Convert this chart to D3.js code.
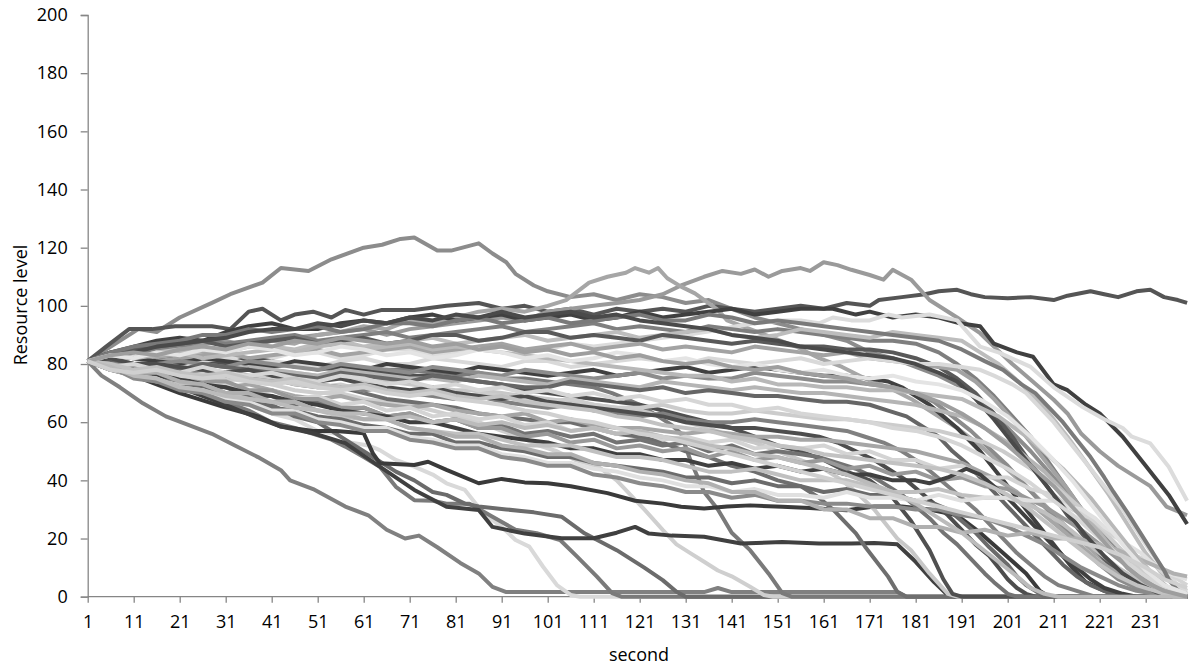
<!DOCTYPE html>
<html>
<head>
<meta charset="utf-8">
<script src="https://cdn.jsdelivr.net/npm/d3@7"></script>
<style>
  html, body { margin: 0; padding: 0; background: #ffffff; }
  svg { display: block; }
  text { font-family: "Open Sans", "Liberation Sans", sans-serif; fill: #000; }
</style>
</head>
<body>
<svg id="chart" width="1190" height="671"></svg>
<script>
// ---------------- data ----------------
const xTickLabels = [1, 11, 21, 31, 41, 51, 61, 71, 81, 91, 101, 111, 121, 131, 141, 151, 161, 171, 181, 191, 201, 211, 221, 231];
const yTickLabels = [0, 20, 40, 60, 80, 100, 120, 140, 160, 180, 200];
const xTitle = "second";
const yTitle = "Resource level";

// each series: [second, resource level] readings
const s01 = [[1,81],[5,85],[12,92],[16,91],[21,96],[28,101],[32,104],[39,108],[43,113],[49,112],[54,116],[61,120],[65,121],[69,123],[72,123.5],[77,119],[80,119],[86,121.5],[89,118],[92,115],[94,111],[98,107],[101,105],[106,103],[111,104],[116,102],[121,104],[126,103],[131,101],[136,102],[141,99],[146,96],[151,94],[156,92],[161,90],[166,88],[171,84],[176,82],[181,79],[186,76],[191,72],[196,66],[201,58],[206,50],[211,41],[216,32],[221,23],[226,15],[231,8],[235,4],[238,1],[240,0]];
const s02 = [[1,81],[5,86],[10,92],[15,92],[20,93],[28,93],[32,92],[36,98],[39,99],[43,95],[46,97],[50,98],[54,96],[57,98.6],[61,97],[65,98.6],[72,98.6],[79,100],[86,101],[91,99],[96,100],[101,98],[106,99],[111,97],[116,99],[121,98],[126,99],[131,98],[136,100],[141,99],[146,98],[151,99],[156,100],[161,99],[166,101],[171,100],[173,102],[178,103],[183,104],[186,105],[190,105.5],[193,104],[196,103],[201,102.6],[206,103],[211,102],[214,103.5],[219,105],[222,104],[225,103],[229,105],[232,105.5],[235,103],[238,102],[240,101]];
const s03 = [[1,81],[6,82],[11,84],[16,83],[21,86],[26,87],[31,88],[36,86],[41,88],[46,89],[51,90],[56,91],[61,92],[66,90],[71,92],[76,93],[81,94],[86,95],[91,96],[96,95],[101,98],[106,99],[111,100],[116,101],[121,102],[126,104],[130,107],[135,110],[139,112],[143,111],[146,112.5],[149,110],[152,112],[156,113],[158,112],[161,115],[164,114],[167,112.4],[171,110.6],[174,109],[176,112.4],[180,109],[184,102],[190,96],[195,90.6],[198,86],[202,80],[206,74.6],[211,67.7],[214,63],[217,56],[221,50],[225,45],[232,38],[235.5,31],[240,28]];
const s04 = [[1,81],[6,83],[11,84],[16,82],[21,83],[26,84],[31,85],[36,87],[41,88],[46,87],[51,90],[56,91],[61,93],[66,92],[71,95],[76,94],[81,96],[86,98],[91,99],[96,98],[101,100],[105,102],[110,108],[114,110],[118,111.4],[120,113],[123,111.4],[125,113],[127,109.5],[130,106.6],[133,104.3],[138,98.6],[140,95],[145,92],[150,89],[155,86],[160,82],[165,79],[170,75],[175,72],[180,68],[185,63],[190,58],[195,52],[200,45],[205,38],[210,30],[215,22],[220,15],[225,9],[230,5],[235,2],[240,1]];
const s05 = [[1,81],[6,84],[11,86],[16,88],[21,89],[26,88],[31,91],[36,93],[41,94],[46,92],[51,92],[56,94],[61,95],[66,94],[71,96],[76,97],[81,95],[86,96],[91,97],[96,95],[101,96],[106,97],[111,95],[116,96],[121,98],[126,96],[131,97],[136,98],[141,99],[146,97],[151,98],[156,99],[163,99],[168,97],[171,98],[176,96],[181,97],[186,96],[190.6,94],[195,93],[198,87],[203,84],[206.5,82.5],[211,73],[214,71],[218,66],[221,63],[226,55],[231,45],[236,35],[240,25]];
const s06 = [[1,81],[6,80],[11,79],[16,81],[21,80],[26,82],[31,83],[36,81],[41,82],[46,84],[51,84],[56,82],[61,83],[66,85],[71,85],[76,83],[81,84],[86,86],[91,86],[96,84],[101,85],[106,87],[111,86],[116,87],[121,88],[126,89],[131,90],[138,91.7],[142,93],[146,94],[152,95],[156,95],[160,94],[163,96],[167,95],[171,95],[175,97],[178,96],[184,97],[190,95],[195,86],[199,84],[206,79],[211,72],[217,65.5],[222,61],[226,58],[228,55],[232,52.7],[236,44.7],[240,33]];
const s07 = [[1,81],[4,76],[8,72],[13,66.5],[18,62],[23,59],[28,56],[33,52],[38,48],[43,43.5],[45,40],[50,37],[57,31],[62,28],[66,23],[70,20],[73,21],[77,17],[82,11.6],[86,8],[89,3.4],[92,1.6],[120,1.6],[135,1.6],[138,3],[141,1.6],[177,1.6],[179,0],[240,0]];
const s08 = [[1,81],[6,78],[11,76],[16,75],[21,72],[26,71],[31,68],[36,66],[41,63],[46,61],[51,57],[55,56],[58,53],[62,52],[64.5,50.4],[68,47],[72,44.7],[76,42],[79,39],[83,36.7],[87,28.7],[91,24],[94,19.5],[97,17.2],[100,10.3],[103,4],[106,0.6],[108,0],[240,0]];
const s09 = [[1,81],[6,78],[11,77],[16,74],[21,72],[26,70],[31,67],[36,64],[41,60],[46,58],[50,56],[54,54],[57,51.6],[61,48],[64.5,44.7],[68,37.8],[72,33.2],[76,33],[79,32],[84,32],[89,27.5],[94,23],[98.6,21.8],[103.7,19.5],[107.4,13.8],[111.7,6.9],[115,1.2],[117,0],[240,0]];
const s10 = [[1,81],[6,79],[11,78],[16,76],[21,74],[26,73],[31,70],[36,68],[41,66],[46,62],[51,60],[54,57],[57,54],[61,50],[64,47],[68,43],[72,40],[76,36],[79,35],[83,32],[86,31],[92,30],[98,29],[104,27.5],[109,21.8],[116,16],[122,10],[126,5.7],[129,1.7],[131,0],[240,0]];
const s11 = [[1,81],[6,80],[11,79],[16,78],[21,77],[26,77],[31,75],[36,74],[41,73],[46,71],[51,70],[56,70],[61,68],[66,67],[71,66],[76,64],[81,62],[86,60],[91,57],[95,55],[99,52],[103,50],[107,47],[112,44.7],[116,40],[119,35],[122,30],[126,23],[129,18],[132,15],[135,12],[138,9],[141,7],[145,3.4],[148,0.6],[150,0],[240,0]];
const s12 = [[1,81],[6,83],[11,82],[16,81],[21,80],[26,82],[31,81],[36,80],[41,79],[46,80],[51,78],[56,79],[61,77],[66,78],[71,78],[76,77],[81,76],[86,77],[91,75],[96,75],[101,74],[106,73],[111,72],[115,70],[118,68],[121,66],[125,62],[128,59],[130,56],[132,47],[135,36],[138,30],[141,22],[145,16],[149,8],[152,1.2],[154,0],[240,0]];
const s13 = [[1,81],[6,78],[11,76],[21,70],[31,65],[38,62],[43,58.5],[50,57],[55,57],[57,56.7],[61,56.2],[63,49.3],[64.5,45.9],[72,45.3],[75,46.4],[79,43.6],[86,39],[91,40.5],[96,39.3],[101,39],[106,38],[114,35.6],[120,33],[126,32],[130,30.9],[135,30.3],[140,31],[145,31.4],[152,30.9],[158,30.5],[166,29.7],[172,31],[178,31],[184,30],[190,28],[195,22],[200,15],[205,8],[208,2],[210,0],[240,0]];
const s14 = [[1,81],[11,77],[21,72],[31,66],[38,61.4],[43,58.5],[50,56.2],[57,52.8],[64.5,44.7],[72,36.7],[79,30.9],[86,29.8],[89,24],[96,21.7],[104,20.1],[111,20.1],[116,22],[120,24],[123,21.7],[128,21],[135,20.6],[143,18.3],[152,18.8],[160,18.3],[167,18.3],[172,18.5],[177,18],[181,12],[185,5],[188,0.5],[190,0],[240,0]];
const s15 = [[1,81],[6,82],[11,80],[16,79],[21,78],[26,78],[31,77],[36,76],[41,75],[46,73],[51,72],[56,72],[61,70],[66,68],[71,67],[76,66],[81,65],[86,63],[91,62],[96,61],[101,60],[106,60],[111,58],[116,56],[121,55],[126,53],[131,50],[136,48],[141,45],[146,43],[151,40],[156,38],[160,34],[163,30],[168,21.8],[170,17.2],[175,6.9],[177,1.7],[179,0],[240,0]];
const s16 = [[1,81],[6,82],[11,80],[16,80],[21,81],[26,80],[31,79],[36,79],[41,78],[46,77],[51,76],[56,75],[61,74],[66,74],[71,73],[76,72],[81,71],[86,71],[91,70],[96,69],[101,68],[106,67],[111,66],[116,65],[121,64],[126,62],[131,60],[136,58],[141,55],[146,53],[151,50],[156,47],[161,44],[165,40],[168,36],[172,30],[177,20],[180,16],[184,8],[188,1],[190,0],[240,0]];
const s17 = [[1,81],[6,82],[11,83],[16,81],[21,82],[26,81],[31,80],[36,82],[41,81],[46,79],[51,79],[56,78],[61,78],[66,77],[71,76],[76,76],[81,75],[86,74],[91,73],[96,71],[101,70],[106,69],[111,68],[116,67],[121,66],[126,64],[131,62],[136,60],[141,58],[146,55],[151,52],[156,50],[161,47],[166,43],[171,40],[176,34],[180,26],[184,16],[187,6],[189,1],[191,0],[240,0]];
const s18 = [[1,81],[6,83],[11,84],[16,85],[21,86],[26,88],[31,87],[36,88],[41,89],[46,90],[51,88],[56,89],[61,90],[66,91],[71,89],[76,90],[81,91],[86,92],[91,93],[96,91],[101,92],[106,93],[111,94],[116,92],[121,93],[126,92],[131,91],[136,93],[141,92],[146,91],[151,92],[156,91],[161,90],[166,89],[171,88],[176,88],[181,87],[186,84],[190,80],[194,75],[198,69],[202,62],[206,55],[210,46],[214,37],[218,28],[222,19],[226,12],[230,6],[234,3],[238,1],[240,0]];
const s19 = [[1,81],[6,83],[11,82],[16,84],[21,85],[26,83],[31,84],[36,86],[41,86],[46,85],[51,87],[56,88],[61,86],[66,87],[71,88],[76,89],[81,87],[86,88],[91,89],[96,90],[101,88],[106,89],[111,90],[116,91],[121,89],[126,90],[131,91],[136,92],[141,90],[146,89],[151,90],[156,92],[161,91],[166,90],[171,89],[176,91],[181,90],[186,89],[191,88],[195,84],[199,80],[204,73],[209,65],[214,55],[219,44],[223,35],[227,25],[231,15],[234,9],[237,4],[240,2]];
const s20 = [[1,81],[6,84],[11,85],[16,86],[21,87],[26,88],[31,86],[36,87],[41,88],[46,89],[51,87],[56,88],[61,89],[66,87],[71,88],[76,90],[81,90],[86,88],[91,89],[96,91],[101,91],[106,89],[111,90],[116,89],[121,88],[126,90],[131,89],[136,88],[141,87],[146,88],[151,87],[156,86],[161,86],[166,85],[171,85],[176,84],[181,82],[186,79],[190,75],[194,70],[198,63],[202,55],[206,46],[210,37],[214,28],[218,20],[222,13],[226,7],[230,3],[234,1],[236,0],[240,0]];
const s21 = [[1,81],[6,82],[11,80],[16,81],[21,82],[26,83],[31,84],[36,82],[41,83],[46,84],[51,85],[56,83],[61,84],[66,85],[71,86],[76,84],[81,85],[86,86],[91,87],[96,85],[101,86],[106,87],[111,85],[116,86],[121,87],[126,85],[131,86],[136,85],[141,84],[146,86],[151,85],[156,84],[161,83],[166,84],[171,82],[176,81],[181,80],[186,79],[190,78],[194,74],[198,68],[202,61],[206,53],[210,45],[214,37],[218,28],[222,19],[226,12],[230,7],[234,3],[238,1],[240,0]];
const s22 = [[1,81],[6,82],[11,83],[16,81],[21,80],[26,81],[31,82],[36,80],[41,81],[46,80],[51,79],[56,81],[61,82],[66,80],[71,80],[76,82],[81,81],[86,80],[91,79],[96,81],[101,81],[106,79],[111,80],[116,81],[121,82],[126,81],[131,80],[136,82],[141,81],[146,80],[151,81],[156,82],[161,80],[166,81],[171,82],[176,81],[181,80],[186,80],[191,79],[195,78],[198,76],[202,73],[205,70],[208,65],[211,60],[216,50],[221,40],[226,30],[231,18],[235,9],[238,4],[240,2]];
const s23 = [[1,81],[6,83],[11,82],[16,81],[21,80],[26,82],[31,81],[36,80],[41,79],[46,81],[51,80],[56,79],[61,78],[66,80],[71,79],[76,78],[81,77],[86,79],[91,78],[96,77],[101,76],[106,77],[111,78],[116,76],[121,77],[126,78],[131,79],[136,77],[141,78],[146,79],[151,78],[156,77],[161,76],[166,76],[171,75],[175,74],[178,72],[181,69],[184,66],[187,62],[190,58],[195,50],[200,40],[204,32],[208,24],[212,16],[215,10],[218,5],[222,2],[226,0],[240,0]];
const s24 = [[1,81],[6,80],[11,79],[16,80],[21,81],[26,80],[31,79],[36,81],[41,80],[46,79],[51,78],[56,80],[61,79],[66,78],[71,77],[76,79],[81,78],[86,77],[91,76],[96,78],[101,77],[106,76],[111,75],[116,76],[121,77],[126,75],[131,76],[136,75],[141,75],[146,77],[151,76],[156,75],[161,74],[166,74],[171,73],[176,72],[181,70],[185,67],[189,62],[193,57],[197,51],[201,45],[205,38],[209,31],[213,24],[217,17],[221,11],[225,6],[229,3],[233,1],[236,0],[240,0]];
const s25 = [[1,81],[6,79],[11,78],[16,80],[21,79],[26,78],[31,77],[36,79],[41,78],[46,77],[51,76],[56,78],[61,77],[66,76],[71,75],[76,75],[81,74],[86,76],[91,75],[96,74],[101,73],[106,75],[111,74],[116,73],[121,72],[126,74],[131,73],[136,72],[141,71],[146,72],[151,71],[156,70],[161,70],[166,69],[171,68],[176,67],[181,66],[186,64],[191,62],[195,59],[198,56],[202,52],[205,48],[209,43],[212,38],[215,33],[218,28],[221,22],[224,16],[227,10],[230,6],[234,3],[238,1],[240,0]];
const s26 = [[1,81],[6,81],[11,80],[16,79],[21,78],[26,80],[31,79],[36,78],[41,77],[46,76],[51,75],[56,77],[61,76],[66,75],[71,74],[76,76],[81,75],[86,74],[91,73],[96,72],[101,72],[106,74],[111,73],[116,72],[121,71],[126,72],[131,70],[136,71],[141,70],[146,69],[151,69],[156,68],[161,67],[166,67],[171,66],[175,64],[179,62],[183,58],[186,55],[189,50],[192,46],[195,41],[198,36],[201,31],[204,26],[207,21],[210,16],[213,11],[216,7],[219,4],[222,2],[225,0],[240,0]];
const s27 = [[1,81],[6,79],[11,78],[16,77],[21,76],[26,75],[31,74],[36,76],[41,75],[46,73],[51,72],[56,73],[61,71],[66,72],[71,70],[76,69],[81,68],[86,70],[91,69],[96,68],[101,67],[106,68],[111,66],[116,65],[121,65],[126,66],[131,64],[136,63],[141,63],[146,64],[151,63],[156,62],[161,61],[166,61],[171,60],[176,59],[181,58],[186,57],[191,55],[196,53],[200,50],[204,46],[208,42],[212,37],[215,33],[218,29],[221,24],[224,19],[227,14],[230,9],[233,5],[236,2],[240,1]];
const s28 = [[1,81],[6,80],[11,79],[16,78],[21,77],[26,78],[31,76],[36,75],[41,74],[46,75],[51,73],[56,72],[61,71],[66,72],[71,70],[76,69],[81,68],[86,69],[91,67],[96,66],[101,65],[106,66],[111,64],[116,63],[121,62],[126,63],[131,61],[136,60],[141,60],[146,61],[151,60],[156,59],[161,58],[166,57],[170,55],[174,53],[178,50],[182,46],[185,42],[188,38],[191,34],[194,30],[197,25],[200,20],[203,15],[206,11],[209,7],[212,4],[216,2],[220,0],[240,0]];
const s29 = [[1,81],[6,82],[11,80],[16,80],[21,79],[26,78],[31,77],[36,78],[41,76],[46,75],[51,74],[56,75],[61,73],[66,72],[71,71],[76,72],[81,70],[86,69],[91,68],[96,69],[101,67],[106,66],[111,65],[116,64],[121,63],[126,62],[131,60],[136,59],[141,58],[146,58],[151,57],[156,56],[160,55],[164,53],[168,50],[172,47],[175,44],[179,40],[182,36],[185,32],[188,28],[191,23],[194,18],[197,14],[199,10],[201,6],[203,3],[205,1],[207,0],[240,0]];
const s30 = [[1,81],[6,78],[11,77],[16,76],[21,75],[26,73],[31,72],[36,73],[41,71],[46,69],[51,68],[56,69],[61,67],[66,66],[71,65],[76,66],[81,64],[86,63],[91,62],[96,63],[101,60],[106,61],[111,59],[116,58],[121,58],[126,57],[131,56],[136,57],[141,56],[146,55],[151,55],[156,54],[161,54],[166,53],[171,52],[176,51],[181,50],[186,48],[191,46],[195,43],[199,40],[203,36],[206,32],[209,28],[212,24],[215,20],[218,16],[221,12],[224,9],[227,6],[231,4],[235,2],[240,1]];
const s31 = [[1,81],[6,79],[11,78],[16,75],[21,75],[26,72],[31,73],[36,70],[41,71],[46,68],[51,69],[56,66],[61,67],[66,64],[71,65],[76,62],[81,63],[86,61],[91,62],[96,59],[101,60],[106,57],[111,58],[116,56],[121,57],[126,54],[131,55],[136,53],[141,54],[146,51],[151,52],[156,51],[161,52],[166,49],[171,50],[176,47],[181,47],[186,44],[191,45],[196,41],[201,41],[206,37],[211,35],[215,30],[219,27],[223,22],[226,19],[229,14],[232,12],[235,8],[237,7],[240,4]];
const s32 = [[1,81],[6,78],[11,78],[16,75],[21,75],[26,72],[31,72],[36,69],[41,69],[46,66],[51,67],[56,64],[61,65],[66,62],[71,63],[76,60],[81,61],[86,58],[91,59],[96,56],[101,57],[106,55],[111,56],[116,53],[121,54],[126,52],[131,53],[136,50],[141,52],[146,49],[151,50],[156,49],[160,48],[164,46],[168,44],[172,41],[175,38],[178,35],[181,31],[184,27],[187,22],[190,18],[193,13],[196,8],[198,5],[201,1],[203,0],[240,0]];
const s33 = [[1,81],[6,80],[11,79],[16,77],[21,77],[26,74],[31,74],[36,71],[41,71],[46,68],[51,68],[56,65],[61,65],[66,62],[71,63],[76,60],[81,61],[86,58],[91,58],[96,55],[101,56],[106,53],[111,54],[116,51],[121,52],[126,50],[131,51],[136,48],[141,50],[146,47],[151,48],[156,46],[161,47],[166,44],[171,45],[176,42],[181,43],[186,40],[191,41],[196,38],[201,37],[205,34],[209,31],[213,27],[217,23],[221,18],[225,13],[229,8],[233,4],[237,1],[240,0]];
const s34 = [[1,81],[6,79],[11,78],[16,76],[21,75],[26,73],[31,72],[36,70],[41,69],[46,67],[51,66],[56,64],[61,63],[66,62],[71,60],[76,60],[81,58],[86,56],[91,55],[96,54],[101,53],[106,51],[111,51],[116,49],[121,49],[126,47],[131,47],[136,45],[141,46],[146,44],[151,45],[156,43],[161,44],[166,42],[171,42],[176,40],[181,40],[184,39],[188,41],[192,44],[195,42],[198,38],[201,34],[204,29],[207,24],[210,19],[213,14],[216,10],[219,6],[222,3],[226,1],[229,0],[240,0]];
const s35 = [[1,81],[6,78],[11,76],[16,74],[21,73],[26,73],[31,70],[36,68],[41,67],[46,67],[51,64],[56,62],[61,61],[66,61],[71,58],[76,57],[81,56],[86,56],[91,54],[96,52],[101,52],[106,52],[111,50],[116,48],[121,48],[126,47],[131,45],[136,43],[141,43],[146,44],[151,42],[156,40],[161,40],[166,40],[171,38],[176,36],[181,36],[186,37],[191,35],[196,34],[201,34],[205,32],[209,29],[213,25],[217,20],[221,15],[225,10],[229,6],[233,3],[237,1],[240,0]];
const s36 = [[1,81],[6,80],[11,77],[16,75],[21,72],[26,72],[31,69],[36,67],[41,65],[46,64],[51,62],[56,61],[61,59],[66,58],[71,56],[76,56],[81,53],[86,53],[91,51],[96,50],[101,48],[106,48],[111,46],[116,45],[121,44],[126,43],[131,41],[136,41],[141,39],[146,40],[151,38],[156,38],[161,36],[166,37],[171,35],[176,35],[181,33],[185,32],[188,30],[191,26],[194,22],[197,17],[199,14],[201,11],[203,7],[205,4],[207,2],[209,0],[240,0]];
const s37 = [[1,81],[6,79],[11,76],[16,75],[21,72],[26,71],[31,68],[36,67],[41,64],[46,64],[51,61],[56,60],[61,58],[66,58],[71,55],[76,54],[81,52],[86,52],[91,49],[96,48],[101,46],[106,46],[111,44],[116,43],[121,41],[126,40],[131,38],[136,38],[141,36],[146,37],[151,35],[156,35],[161,34],[166,36],[171,34],[176,34],[181,33],[186,35],[191,33],[196,34],[201,34],[206,33],[211,33],[214,31],[217,30],[220,27],[222,24],[225,21],[227,18],[230,15],[232,12],[236,8],[240,6]];
const s38 = [[1,81],[6,79],[11,75],[16,74],[21,71],[26,70],[31,67],[36,66],[41,63],[46,63],[51,60],[56,59],[61,57],[66,57],[71,54],[76,53],[81,51],[86,51],[91,48],[96,47],[101,45],[106,45],[111,42],[116,41],[121,39],[126,38],[131,36],[136,36],[141,34],[146,35],[151,33],[156,33],[161,32],[166,32],[171,31],[176,31],[181,30],[186,30],[191,28],[196,27],[201,24],[205,21],[209,18],[213,14],[217,10],[221,7],[225,4],[229,2],[233,1],[236,0],[240,0]];
const s39 = [[1,81],[6,80],[11,77],[16,77],[21,74],[26,73],[31,70],[36,70],[41,67],[46,67],[51,64],[56,63],[61,61],[66,61],[71,58],[76,57],[81,55],[86,55],[91,52],[96,51],[101,49],[106,49],[111,46],[116,45],[121,43],[126,42],[131,40],[136,39],[141,36],[146,36],[151,33],[156,33],[161,30],[166,30],[171,27],[176,27],[181,24],[186,24],[191,22],[196,23],[201,21],[206,22],[211,20],[216,20],[221,18],[225,16],[228,14],[231,12],[234,10],[237,8],[240,7]];
const s40 = [[1,81],[6,84],[11,86],[16,87],[21,88],[26,90],[31,90],[36,92],[41,91],[46,92],[51,93],[56,91],[61,92],[66,94],[71,94],[76,93],[81,95],[86,96],[91,94],[96,95],[101,96],[106,94],[111,95],[116,96],[121,97],[126,95],[131,95],[136,97],[141,96],[146,94],[151,95],[156,94],[161,93],[166,92],[171,91],[176,90],[181,89],[186,88],[191,85],[196,81],[200,78],[204,73],[207,70],[210,65],[213,60],[216,54],[219,48],[222,41],[224,36],[227,29],[229,24],[231,19],[233,14],[235,9],[236,6],[238,2],[240,0]];
const s41 = [[1,81],[6,83],[11,84],[16,86],[21,87],[26,88],[31,89],[36,91],[41,92],[46,92],[51,94],[56,93],[61,95],[66,94],[71,96],[76,95],[81,97],[86,96],[91,98],[96,96],[101,97],[106,98],[111,96],[116,97],[121,95],[126,94],[131,93],[136,92],[141,90],[146,89],[151,88],[156,86],[161,85],[166,84],[171,83],[176,82],[181,80],[186,77],[190,74],[194,68],[198,61],[202,53],[206,45],[210,37],[214,29],[218,21],[222,14],[226,8],[230,4],[234,1],[237,0],[240,0]];
const s42 = [[1,81],[6,83],[11,82],[16,83],[21,84],[26,82],[31,83],[36,84],[41,85],[46,84],[51,86],[56,87],[61,85],[66,86],[71,87],[76,85],[81,86],[86,85],[91,84],[96,83],[101,82],[106,81],[111,80],[116,79],[121,78],[126,77],[131,76],[136,76],[141,74],[146,75],[151,73],[156,73],[161,72],[166,72],[171,71],[176,71],[181,70],[186,69],[191,68],[195,65],[199,62],[206,54],[213,44],[219,34],[224,24],[229,14],[233,7],[236,3],[240,1]];
const s43 = [[1,81],[6,79],[11,80],[16,78],[21,77],[26,79],[31,77],[36,76],[41,77],[46,75],[51,74],[56,76],[61,75],[66,73],[71,74],[76,72],[81,73],[86,71],[91,72],[96,70],[101,71],[106,69],[111,70],[116,68],[121,69],[126,67],[131,68],[136,66],[141,66],[146,64],[151,65],[156,63],[161,62],[166,61],[171,60],[176,58],[181,57],[186,55],[191,52],[196,48],[201,44],[206,39],[211,33],[216,27],[221,20],[226,13],[230,8],[234,4],[238,2],[240,1]];
const s44 = [[1,81],[6,80],[11,78],[16,79],[21,77],[26,76],[31,77],[36,75],[41,74],[46,75],[51,73],[56,72],[61,73],[66,71],[71,70],[76,71],[81,69],[86,68],[91,69],[96,67],[101,66],[106,65],[111,64],[116,62],[121,61],[126,59],[131,58],[136,57],[141,55],[146,54],[151,52],[156,51],[161,49],[166,48],[171,47],[176,46],[181,45],[186,44],[191,42],[196,39],[201,35],[205,31],[209,26],[213,21],[217,16],[221,11],[225,7],[229,4],[233,2],[237,0],[240,0]];
const s45 = [[1,81],[6,83],[11,82],[16,84],[21,83],[26,85],[31,84],[36,86],[41,85],[46,83],[51,84],[56,86],[61,85],[66,83],[71,84],[76,82],[81,83],[86,85],[91,84],[96,82],[101,83],[106,81],[111,82],[116,84],[121,83],[126,81],[131,82],[136,80],[141,79],[146,80],[151,78],[156,77],[161,78],[166,76],[171,75],[176,76],[181,74],[186,73],[191,71],[196,67],[201,62],[206,55],[211,47],[215,40],[219,32],[223,24],[227,16],[231,9],[235,4],[240,1]];
const s46 = [[1,81],[6,79],[11,76],[16,75],[21,72],[26,71],[31,69],[36,68],[41,67],[46,65],[51,64],[56,63],[61,63],[66,61],[71,62],[76,60],[81,61],[86,59],[91,60],[96,58],[101,59],[106,57],[111,58],[116,56],[121,57],[126,55],[131,54],[136,52],[141,51],[146,49],[151,48],[156,46],[161,44],[166,42],[171,39],[176,36],[181,32],[186,27],[191,22],[195,17],[199,12],[203,7],[206,3],[209,1],[212,0],[240,0]];
const s47 = [[1,81],[6,83],[11,84],[16,83],[21,85],[26,86],[31,85],[36,87],[41,86],[46,88],[51,87],[56,89],[61,88],[66,87],[71,88],[76,86],[81,87],[86,85],[91,86],[96,84],[101,85],[106,83],[111,84],[116,82],[121,83],[126,81],[131,80],[136,81],[141,79],[146,78],[151,79],[156,77],[161,76],[166,75],[171,73],[176,72],[181,70],[186,67],[191,63],[196,58],[201,52],[206,45],[211,38],[215,31],[219,24],[223,17],[227,10],[231,5],[235,2],[240,0]];
const s48 = [[1,81],[6,78],[11,77],[16,78],[21,76],[26,75],[31,76],[36,74],[41,73],[46,74],[51,72],[56,71],[61,72],[66,70],[71,69],[76,70],[81,68],[86,67],[91,66],[96,64],[101,63],[106,61],[111,60],[116,58],[121,56],[126,55],[131,53],[136,51],[141,49],[146,47],[151,45],[156,43],[161,41],[166,39],[171,37],[176,35],[181,33],[186,31],[191,29],[196,27],[201,25],[206,23],[211,21],[216,19],[221,17],[226,14],[231,10],[235,6],[240,3]];

const seriesList = [s01,s02,s03,s04,s05,s06,s07,s08,s09,s10,s11,s12,s13,s14,s15,s16,s17,s18,s19,s20,s21,s22,s23,s24,
  s25,s26,s27,s28,s29,s30,s31,s32,s33,s34,s35,s36,s37,s38,s39,s40,s41,s42,s43,s44,s45,s46,s47,s48];

// ---------------- styles ----------------
const seriesColors = ["#8c8c8c","#555555","#9a9a9a","#a6a6a6","#404040","#dcdcdc","#808080","#d9d9d9","#7a7a7a","#6b6b6b",
  "#cfcfcf","#7a7a7a","#3a3a3a","#404040","#6e6e6e","#c8c8c8","#505050","#7f7f7f","#bdbdbd","#595959",
  "#a3a3a3","#d9d9d9","#404040","#8c8c8c","#b5b5b5","#666666","#cccccc","#808080","#4d4d4d","#a6a6a6",
  "#d4d4d4","#737373","#999999","#404040","#c0c0c0","#6b6b6b","#e0e0e0","#8a8a8a","#b0b0b0","#7a7a7a",
  "#4a4a4a","#b8b8b8","#d6d6d6","#c2c2c2","#e4e4e4","#bbbbbb","#9e9e9e","#d0d0d0"];

const margin = { left: 87.7, right: 1187.1, top: 15, bottom: 596.7 };
const svg = d3.select("#chart");

const x = d3.scaleLinear().domain([1, 240]).range([margin.left, margin.right]);
const y = d3.scaleLinear().domain([0, 200]).range([margin.bottom, margin.top]);

const axisColor = "#868686";

// y axis
const yAxis = d3.axisLeft(y).tickValues(yTickLabels).tickSize(7).tickPadding(13).tickFormat(d3.format("d"));
const gy = svg.append("g").attr("transform", `translate(${margin.left},0)`).call(yAxis);
gy.select(".domain").attr("stroke", axisColor).attr("stroke-width", 1.3);
gy.selectAll(".tick line").attr("stroke", axisColor).attr("stroke-width", 1.3);
gy.selectAll(".tick text").attr("font-size", 18).attr("font-family", "'Open Sans', sans-serif").attr("fill", "#000");

// x axis
const xAxis = d3.axisBottom(x).tickValues(xTickLabels).tickSize(6).tickPadding(13).tickFormat(d3.format("d"));
const gx = svg.append("g").attr("transform", `translate(0,${margin.bottom})`).call(xAxis);
gx.select(".domain").attr("stroke", axisColor).attr("stroke-width", 1.3).attr("d", `M${margin.left},0H${margin.right}`);
gx.selectAll(".tick line").attr("stroke", axisColor).attr("stroke-width", 1.3);
gx.selectAll(".tick text").attr("font-size", 18).attr("font-family", "'Open Sans', sans-serif").attr("fill", "#000");

// axis titles
svg.append("text")
  .attr("x", 639).attr("y", 661)
  .attr("text-anchor", "middle")
  .attr("font-size", 18)
  .text(xTitle);
svg.append("text")
  .attr("transform", "translate(27,305) rotate(-90)")
  .attr("text-anchor", "middle")
  .attr("font-size", 18)
  .text(yTitle);

// lines
const line = d3.line().x(d => x(d[0])).y(d => y(d[1])).curve(d3.curveLinear);
svg.append("g").selectAll("path")
  .data(seriesList)
  .join("path")
  .attr("d", line)
  .attr("fill", "none")
  .attr("stroke", (d, i) => seriesColors[i])
  .attr("stroke-width", 4)
  .attr("stroke-linejoin", "round")
  .attr("stroke-linecap", "butt");
</script>
</body>
</html>
